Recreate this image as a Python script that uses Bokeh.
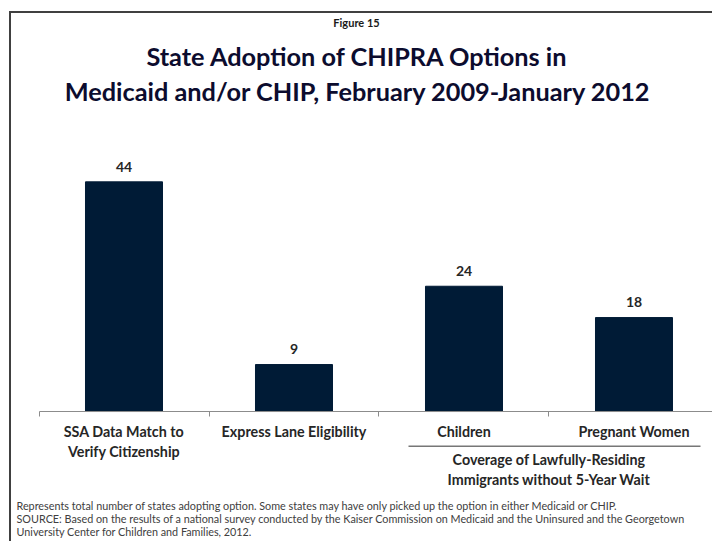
from bokeh.plotting import figure
from bokeh.models import Range1d, FixedTicker, Label, Arrow, LinearAxis
from bokeh.core.properties import value
from bokeh.embed import file_html
from bokeh.resources import INLINE

# ---- data ----
categories = ["SSA Data Match to\nVerify Citizenship", "Express Lane Eligibility",
              "Children", "Pregnant Women"]
values = [44, 9, 24, 18]
group_lines = ["Coverage of Lawfully-Residing", "Immigrants without 5-Year Wait"]
figure_label = "Figure 15"
title_lines = ["State Adoption of CHIPRA Options in",
               "Medicaid and/or CHIP, February 2009-January 2012"]
notes = [
    "Represents total number of states adopting option. Some states may have only picked up the option in either Medicaid or CHIP.",
    "SOURCE: Based on the results of a national survey conducted by the Kaiser Commission on Medicaid and the Uninsured and the Georgetown",
    "University Center for Children and Families, 2012.",
]

xs = list(range(len(categories)))
FONT = "Lato"

p = figure(width=712, height=541, output_backend="svg", toolbar_location=None,
           x_range=Range1d(-0.7265, 3.4618), y_range=Range1d(-24.90, 78.74),
           x_axis_location=None, y_axis_location=None,
           min_border_left=0, min_border_right=0, min_border_top=0,
           min_border_bottom=0, min_border=0)
p.outline_line_color = None
p.background_fill_color = "white"
p.border_fill_color = "white"
p.grid.visible = False

xaxis = LinearAxis(ticker=FixedTicker(ticks=xs, minor_ticks=[-0.5, 0.5, 1.5, 2.5, 3.5]),
                   bounds=(-0.5, 3.5), fixed_location=0)
xaxis.major_label_overrides = {i: c for i, c in enumerate(categories)}
xaxis.axis_line_color = "#8c8c8c"
xaxis.axis_line_width = 1
xaxis.major_tick_in = 0
xaxis.major_tick_out = 0
xaxis.major_tick_line_color = None
xaxis.minor_tick_in = 0
xaxis.minor_tick_out = 5
xaxis.minor_tick_line_color = "#8c8c8c"
xaxis.major_label_standoff = 6
xaxis.major_label_text_font = FONT
xaxis.major_label_text_font_style = "bold"
xaxis.major_label_text_font_size = "14.3px"
xaxis.major_label_text_color = "#262626"
xaxis.major_label_text_line_height = 1.2
p.add_layout(xaxis, "below")

p.vbar(x=xs, top=values, width=0.453, bottom=0, fill_color="#001b36",
       line_color="#001b36")
p.text(x=xs, y=values, text=[str(v) for v in values], y_offset=-15.3,
       text_align="center", text_baseline="alphabetic",
       text_font=value(FONT), text_font_style="bold", text_font_size="14px",
       text_color="#262626")

def lab(text, x, y, size, bold=True, color="#262626", align="center", xu="screen"):
    p.add_layout(Label(x=x, y=y, x_units=xu, y_units="screen", text=text,
                       text_align=align, text_baseline="alphabetic",
                       text_font=FONT, text_font_style="bold" if bold else "normal",
                       text_font_size=size, text_color=color))

lab(figure_label, 356, 519.2, "11px", color="#1a1a1a")
lab(title_lines[0], 357, 485.1, "25.3px", color="#0c0c2e")
lab(title_lines[1], 357.5, 450.8, "25.3px", color="#0c0c2e")

lab(group_lines[0], 2.5, 82.5, "14.3px", xu="data")
lab(group_lines[1], 2.5, 62.5, "14.3px", xu="data")

for t, y in zip(notes, [35.7, 22.7, 9.9]):
    lab(t, 16, y, "10.8px", bold=False, color="#404040", align="left")

# group underline and slide frame
p.add_layout(Arrow(end=None, x_start=408, y_start=95.3, x_end=700, y_end=95.3,
                   start_units="screen", end_units="screen",
                   line_color="#777777", line_width=1.5))
p.add_layout(Arrow(end=None, x_start=9.5, y_start=529.5, x_end=9.5, y_end=-10,
                   start_units="screen", end_units="screen",
                   line_color="#404040", line_width=2))
p.add_layout(Arrow(end=None, x_start=8.5, y_start=529.5, x_end=730, y_end=529.5,
                   start_units="screen", end_units="screen",
                   line_color="#404040", line_width=2))

open("out.html", "w").write(file_html(p, INLINE))
